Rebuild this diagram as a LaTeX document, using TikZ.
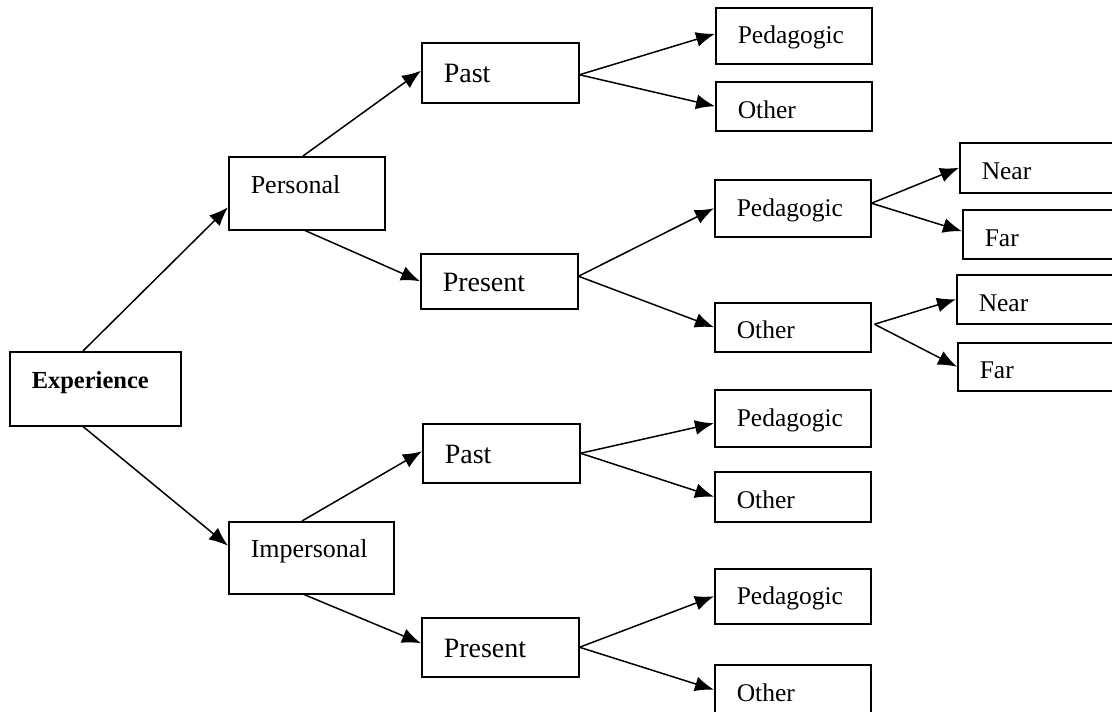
\documentclass[tikz,border=0pt]{standalone}
\usepackage{fontspec}
\setmainfont{Liberation Serif}
\usetikzlibrary{arrows.meta}

\begin{document}
\begin{tikzpicture}[x=1pt, y=-1pt, >={Latex[length=19pt,width=15pt]}, line width=1.5pt,
	box/.style={draw, anchor=north west, align=left, inner xsep=22pt, inner ysep=0pt},
	root/.style={box, font=\fontsize{24.5pt}{28pt}\selectfont\bfseries, text width=127pt, minimum height=74pt, text height=8pt, text depth=8pt},
	kind/.style={box, font=\fontsize{26pt}{30pt}\selectfont, minimum height=73pt, text height=8pt, text depth=8pt},
	time/.style={box, font=\fontsize{28pt}{32pt}\selectfont, text width=113pt, text height=20pt, text depth=0pt},
	leaf/.style={box, font=\fontsize{25.5pt}{30pt}\selectfont, text width=112pt, text depth=0pt},
	ped/.style={leaf, minimum height=56pt, text height=16pt},
	oth/.style={leaf, minimum height=49pt, text height=23pt},
	dist/.style={leaf, text width=130pt, minimum height=49pt, text height=23pt}]
	\clip (0,0) rectangle (1112,712);
	% root and kinds
	\node (exp) at (9,351) [root] {Experience};
	\node (pers) at (228,156) [kind, text width=112pt] {Personal};
	\node (imp) at (228,521) [kind, text width=121pt, minimum height=72pt] {Impersonal};
	% times
	\node (past1) at (421,42) [time, minimum height=60pt] {Past};
	\node (pres1) at (420,253) [time, minimum height=55pt] {Present};
	\node (past2) at (422,423) [time, minimum height=59pt] {Past};
	\node (pres2) at (421,617) [time, minimum height=59pt] {Present};
	% leaves
	\node (ped1) at (715,7) [ped] {Pedagogic};
	\node (oth1) at (715,81) [oth, text height=25pt] {Other};
	\node (ped2) at (714,179) [ped, minimum height=57pt] {Pedagogic};
	\node (oth2) at (714,302) [oth] {Other};
	\node (ped3) at (714,389) [ped, minimum height=57pt] {Pedagogic};
	\node (oth3) at (714,471) [oth, minimum height=50pt] {Other};
	\node (ped4) at (714,568) [ped, minimum height=55pt] {Pedagogic};
	\node (oth4) at (714,664) [oth, minimum height=50pt] {Other};
	% near and far
	\node (near1) at (959,142) [dist, minimum height=50pt] {Near};
	\node (far1) at (962,209) [dist, text height=25pt] {Far};
	\node (near2) at (956,274) [dist, text height=25pt] {Near};
	\node (far2) at (957,342) [dist, minimum height=48pt] {Far};
	% personal
	\draw[->] ([xshift=74pt]exp.north west) -- ([yshift=-14pt]pers.west);
	\draw[->] ([xshift=75pt]pers.north west) -- ([yshift=2pt]past1.west);
	\draw[->] ([xshift=77pt]pers.south west) -- (pres1.west);
	\draw[->] ([yshift=-2pt]past1.east) -- ([yshift=2pt]ped1.west);
	\draw[->] ([yshift=-2pt]past1.east) -- (oth1.west);
	\draw[->] ([yshift=5pt]pres1.east) -- (ped2.west);
	\draw[->] ([yshift=5pt]pres1.east) -- (oth2.west);
	\draw[->] ([yshift=5pt]ped2.east) -- (near1.west);
	\draw[->] ([yshift=5pt]ped2.east) -- ([yshift=3pt]far1.west);
	\draw[->] ([xshift=3pt,yshift=3pt]oth2.east) -- (near2.west);
	\draw[->] ([xshift=3pt,yshift=3pt]oth2.east) -- (far2.west);
	% impersonal
	\draw[->] ([xshift=74pt]exp.south west) -- ([yshift=12pt]imp.west);
	\draw[->] ([xshift=74pt]imp.north west) -- ([yshift=2pt]past2.west);
	\draw[->] ([xshift=76pt]imp.south west) -- ([yshift=4pt]pres2.west);
	\draw[->] (past2.east) -- ([yshift=-5pt]ped3.west);
	\draw[->] (past2.east) -- (oth3.west);
	\draw[->] (pres2.east) -- (ped4.west);
	\draw[->] (pres2.east) -- (oth4.west);
\end{tikzpicture}
\end{document}
